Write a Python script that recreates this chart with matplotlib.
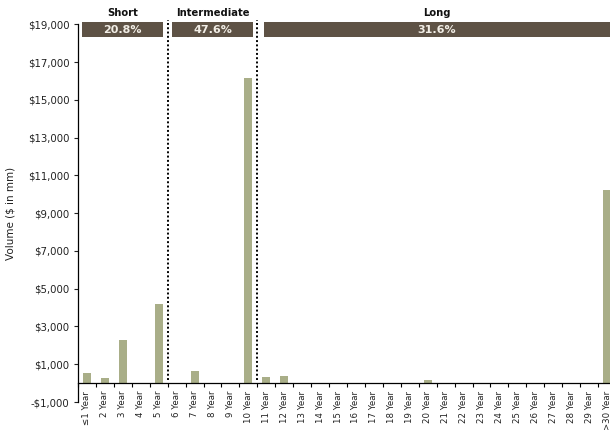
import numpy as np
import matplotlib
matplotlib.use("Agg")
import matplotlib.pyplot as plt
from matplotlib.patches import Rectangle

plt.rcParams['font.family'] = ['DejaVu Sans']

# Maturity buckets and traded volume ($ in mm)
maturities = ["≤1 Year"] + [f"{n} Year" for n in range(2, 30)] + [">30 Year"]
volumes = [550, 280, 2300, 0, 4200,
           0, 650, 0, 0, 16150,
           335, 400, 0, 0, 0, 0, 0, 0, 0, 175,
           0, 0, 0, 0, 0, 0, 0, 0, 0, 10250]

# Maturity groups: name, first and last bucket index
group_names = ["Short", "Intermediate", "Long"]
group_starts = [0, 5, 10]
group_ends = [4, 9, 29]

y_ticks = list(range(-1000, 19001, 2000))

BAR = "#A9AE88"
BANNER = "#5E5245"
TEXT = "#222222"

fig = plt.figure(figsize=(6.1, 4.3), dpi=100)
ax = fig.add_axes([78 / 610, 28 / 430, 538 / 610, 377.7 / 430])

x = np.arange(len(maturities))
ax.bar(x, volumes, width=0.45, color=BAR, zorder=2)

ax.set_xlim(-0.5, len(maturities) - 0.5)
ax.set_ylim(-1000, 19000)

# y axis in dollar format
ax.set_yticks(y_ticks)
ax.set_yticklabels([("-$" if v < 0 else "$") + f"{abs(v):,}" for v in y_ticks])
ax.tick_params(axis='y', direction='out', length=3, width=0.8, labelsize=7.3,
               pad=3, colors=TEXT)
ax.set_ylabel("Volume ($ in mm)", fontsize=7.5, color=TEXT, labelpad=9)

# category axis sits on zero, ticks between categories
ax.spines['bottom'].set_position(('data', 0))
ax.spines['top'].set_visible(False)
ax.spines['right'].set_visible(False)
ax.spines['left'].set_linewidth(0.9)
ax.spines['bottom'].set_linewidth(0.9)
ax.set_xticks(x)
ax.set_xticklabels(maturities, rotation=90, fontsize=6.2, color=TEXT)
ax.set_xticks(np.arange(-0.5, len(maturities), 1.0), minor=True)
ax.tick_params(axis='x', which='major', length=0, pad=5.5)
ax.tick_params(axis='x', which='minor', direction='out', length=3, width=0.8)

# group banners with share of total volume
total = sum(volumes)
for name, s, e in zip(group_names, group_starts, group_ends):
    share = sum(volumes[s:e + 1]) / total * 100
    inset = 0.25 if e - s < 10 else 0.35
    left = s - 0.5 + inset
    right = e + 0.5 - inset
    ax.add_patch(Rectangle((left, 18310), right - left, 810, facecolor=BANNER,
                           edgecolor='none', clip_on=False, zorder=3))
    cx = (left + min(right, 29.2)) / 2
    ax.text(cx, 18715, f"{share:.1f}%", ha='center', va='center',
            color='#F2EEE6', fontsize=8, fontweight='semibold',
            clip_on=False, zorder=4)
    ax.text(cx, 19600, name, ha='center', va='center',
            color='#111111', fontsize=7.2, fontweight='bold', clip_on=False)

# dotted separators between groups
for s in group_starts[1:]:
    ax.plot([s - 0.5, s - 0.5], [150, 19250], color='black', lw=1.4,
            linestyle=(0, (1, 1.2)), clip_on=False, zorder=3)

fig.savefig("out.png", dpi=100)
